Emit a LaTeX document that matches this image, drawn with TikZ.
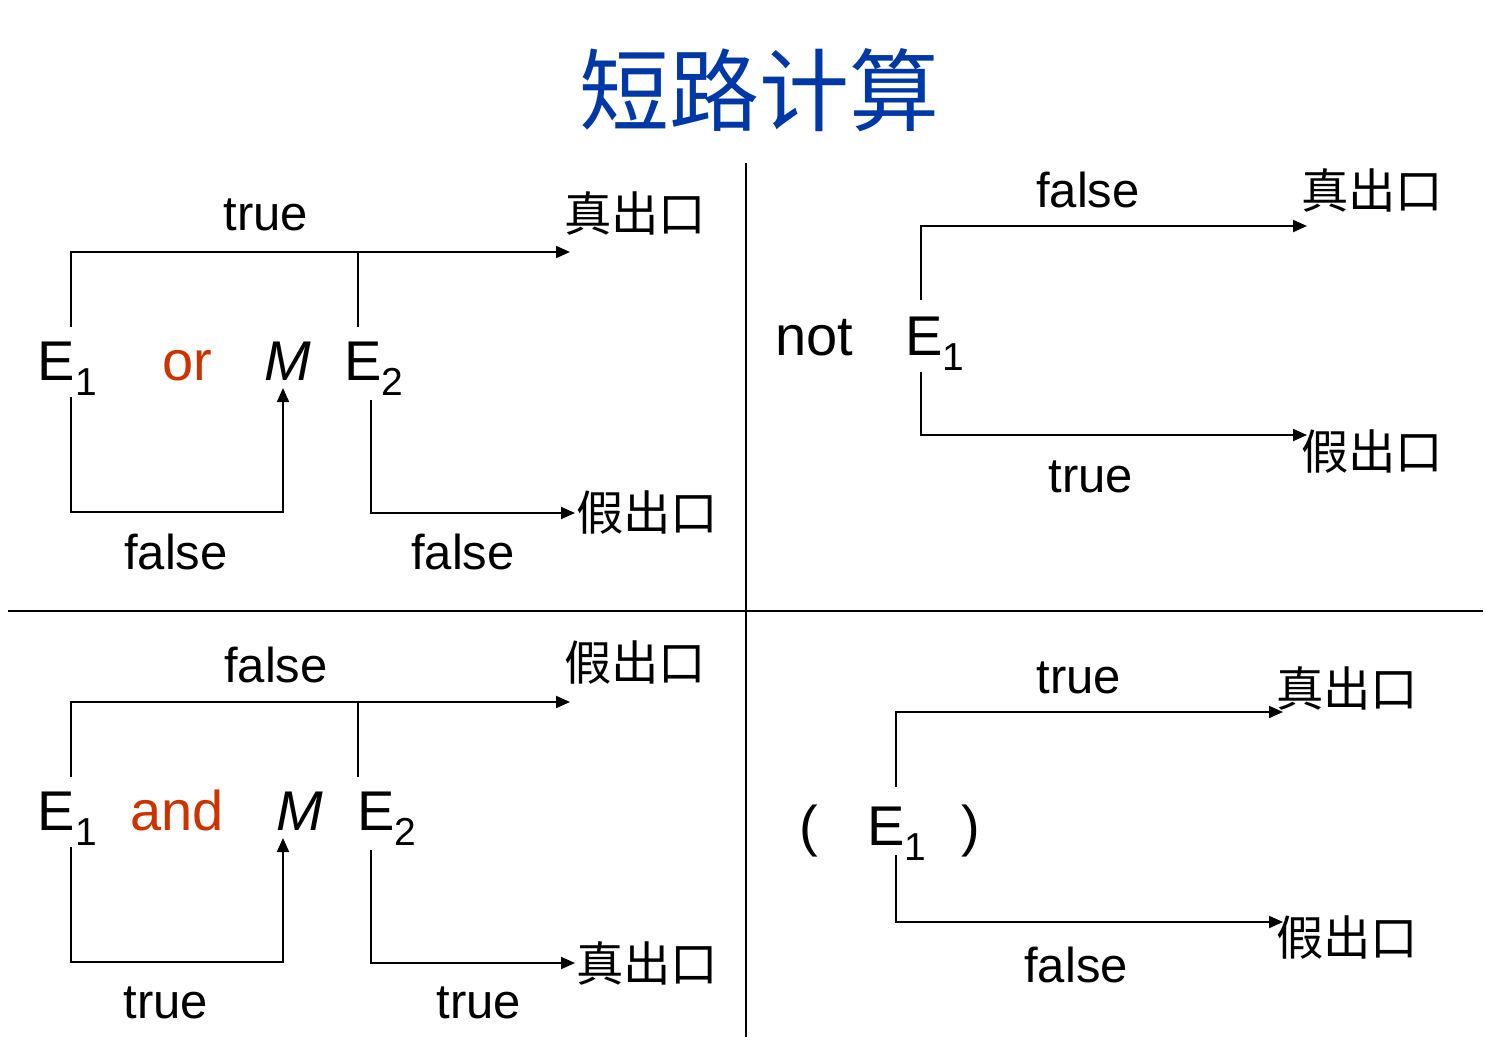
\documentclass[tikz,border=0pt]{standalone}
\usepackage{fontspec}
\setmainfont{Liberation Sans}
\newfontfamily\cjk{Noto Sans CJK SC}
\usetikzlibrary{arrows.meta}
\definecolor{titleblue}{RGB}{0,56,168}
\definecolor{opred}{RGB}{204,51,0}
\newcommand{\subidx}[1]{\raisebox{-7.5pt}{\fontsize{19.5}{20}\selectfont #1}}
\begin{document}
\begin{tikzpicture}[x=0.5pt,y=-0.5pt,line width=1pt,
    arr/.style={-{Triangle[length=7pt,width=6pt]}},
    lbl/.style={inner sep=0pt,font=\fontsize{24.5}{26}\selectfont},
    big/.style={inner sep=0pt,anchor=base west,font=\fontsize{28}{30}\selectfont},
    exit/.style={inner sep=0pt,anchor=west,font=\cjk\fontsize{23.7}{25}\selectfont}]
    \useasboundingbox (0,0) rectangle (1485,1061);
    % title and dividers
    \node[inner sep=0pt,text=titleblue,font=\cjk\fontsize{45}{48}\selectfont] (title) at (759,90) {短路计算};
    \draw[line width=1.2pt] (746,163) -- (746,1037);
    \draw[line width=1.2pt] (8,611) -- (1483,611);
    % E1 or M E2
    \node[big] (e1or) at (37,380) {E\subidx{1}};
    \node[big,text=opred] (or) at (161,380) {or};
    \node[big] (mor) at (263,380) {\textit{M}};
    \node[big] (e2or) at (343,380) {E\subidx{2}};
    \node[lbl] (ortrue) at (266,215) {true};
    \node[exit] (orzhen) at (563,213) {真出口};
    \node[exit] (orjia) at (575,513) {假出口};
    \node[lbl] (orfalse1) at (176,552) {false};
    \node[lbl] (orfalse2) at (463,552) {false};
    \coordinate (A) at (71,327);
    \coordinate (B) at (570,252);
    \coordinate (C) at (358,252);
    \coordinate (D) at (358,327);
    \coordinate (E) at (71,397);
    \coordinate (F) at (283,512);
    \coordinate (G) at (283,388);
    \coordinate (H) at (371,400);
    \draw[arr] (A) |- (B);
    \draw (C) -- (D);
    \draw[arr] (E) |- (F) -- (G);
    \draw[arr] (H) |- (orjia.west);
    % not E1
    \node[big] (not) at (774,355) {not};
    \node[big] (e1not) at (904,355) {E\subidx{1}};
    \node[lbl] (notfalse) at (1088,190) {false};
    \node[exit] (notzhen) at (1300,190) {真出口};
    \node[lbl] (nottrue) at (1091,477) {true};
    \node[exit] (notjia) at (1300,452) {假出口};
    \coordinate (I) at (921,300);
    \coordinate (J) at (1307,226);
    \coordinate (K) at (921,372);
    \coordinate (L) at (1307,435);
    \draw[arr] (I) |- (J);
    \draw[arr] (K) |- (L);
    % E1 and M E2
    \node[big] (e1and) at (37,830) {E\subidx{1}};
    \node[big,text=opred] (and) at (129,830) {and};
    \node[big] (mand) at (275,830) {\textit{M}};
    \node[big] (e2and) at (356,830) {E\subidx{2}};
    \node[lbl] (andfalse) at (276,665) {false};
    \node[exit] (andjia) at (563,663) {假出口};
    \node[exit] (andzhen) at (575,963) {真出口};
    \node[lbl] (andtrue1) at (166,1003) {true};
    \node[lbl] (andtrue2) at (479,1003) {true};
    \coordinate (M) at (71,777);
    \coordinate (N) at (570,702);
    \coordinate (O) at (358,702);
    \coordinate (P) at (358,777);
    \coordinate (Q) at (71,847);
    \coordinate (R) at (283,962);
    \coordinate (S) at (283,838);
    \coordinate (T) at (371,850);
    \draw[arr] (M) |- (N);
    \draw (O) -- (P);
    \draw[arr] (Q) |- (R) -- (S);
    \draw[arr] (T) |- (andzhen.west);
    % ( E1 )
    \node[big] (lpar) at (798,845) {(};
    \node[big] (e1par) at (866,845) {E\subidx{1}};
    \node[big] (rpar) at (960,845) {)};
    \node[lbl] (partrue) at (1079,678) {true};
    \node[exit] (parzhen) at (1275,688) {真出口};
    \node[lbl] (parfalse) at (1076,965) {false};
    \node[exit] (parjia) at (1275,938) {假出口};
    \coordinate (U) at (896,787);
    \coordinate (V) at (1283,712);
    \coordinate (W) at (896,855);
    \coordinate (X) at (1283,922);
    \draw[arr] (U) |- (V);
    \draw[arr] (W) |- (X);
\end{tikzpicture}
\end{document}
